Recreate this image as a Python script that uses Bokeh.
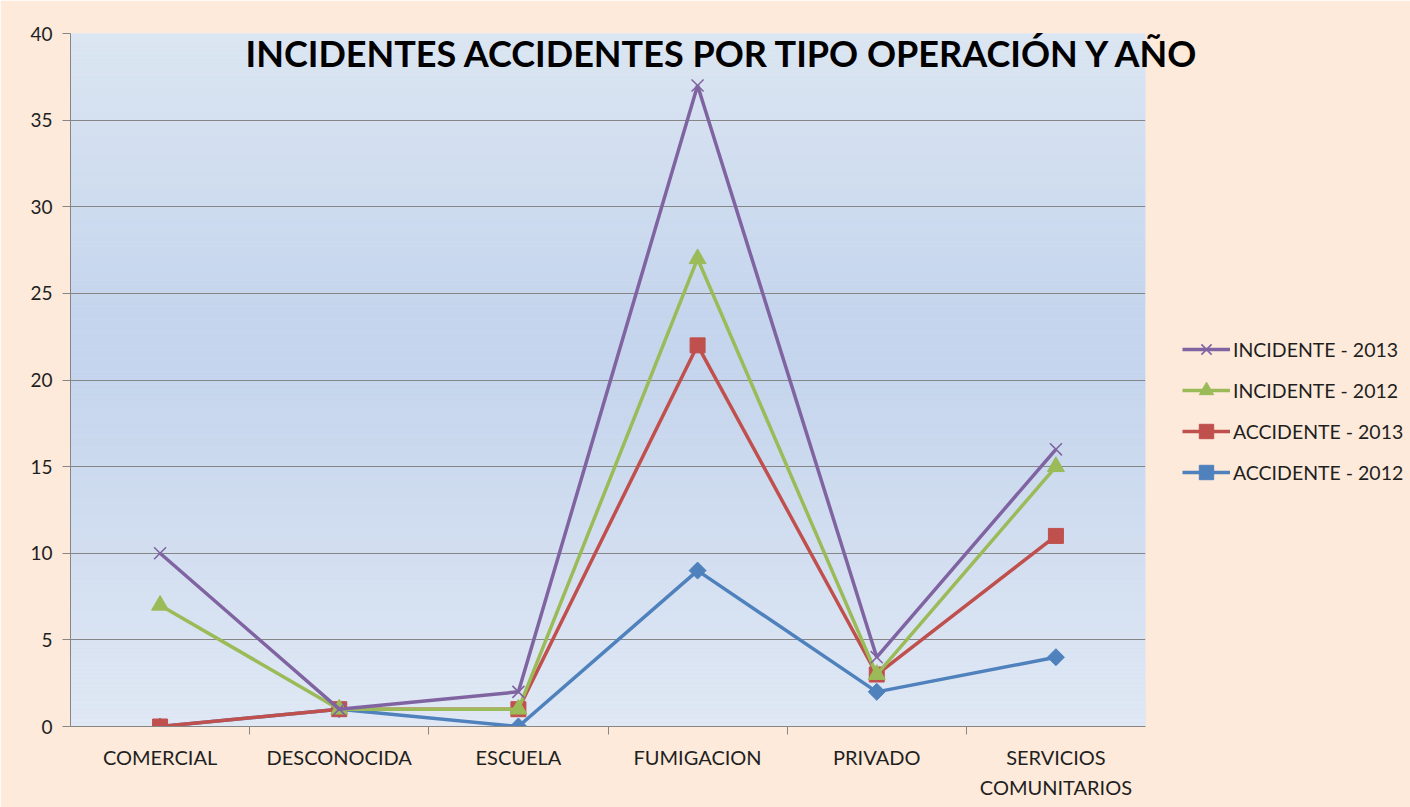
import math
from bokeh.plotting import figure
from bokeh.models import (FactorRange, Range1d, CategoricalAxis, FixedTicker,
                          Legend, LegendItem, Title, BoxAnnotation)
from bokeh.embed import file_html
from bokeh.resources import INLINE

# ---- data ----
categories = ["COMERCIAL", "DESCONOCIDA", "ESCUELA", "FUMIGACION", "PRIVADO",
              "SERVICIOS\nCOMUNITARIOS"]
incidente_2013 = [10, 1, 2, 37, 4, 16]
incidente_2012 = [7, 1, 1, 27, 3, 15]
accidente_2013 = [0, 1, 1, 22, 3, 11]
accidente_2012 = [0, 1, 0, 9, 2, 4]
y_ticks = [0, 5, 10, 15, 20, 25, 30, 35, 40]
title_text = "INCIDENTES ACCIDENTES POR TIPO OPERACIÓN Y AÑO"

FONT = "Lato"
TXT = "#1f1f1f"
GRAY = "#868686"

p = figure(x_range=FactorRange(*categories), y_range=Range1d(0, 40),
           width=None, height=None, frame_width=1075, frame_height=693,
           output_backend="svg", toolbar_location=None,
           x_axis_location=None, min_border_left=70, min_border_right=265,
           min_border_top=33, min_border_bottom=81)
p.border_fill_color = "#FDEADA"
p.background_fill_color = "#D2DEF0"
p.outline_line_color = None

# gradient plot-area background (light top/bottom, darker middle)
stops = [(0.0, (224, 232, 244)), (20.0, (197, 213, 237)), (24.0, (197, 213, 237)),
         (40.0, (220, 230, 242))]

def grad(v):
    for (a, ca), (b, cb) in zip(stops[:-1], stops[1:]):
        if a <= v <= b:
            t = (v - a) / (b - a) if b > a else 0
            c = [round(ca[k] + (cb[k] - ca[k]) * t) for k in range(3)]
            return "#%02x%02x%02x" % tuple(c)
    return "#%02x%02x%02x" % stops[-1][1]

nb = 160
for i in range(nb):
    lo = 40 * i / nb
    hi = 40 * (i + 1) / nb
    p.add_layout(BoxAnnotation(bottom=lo, top=hi, fill_color=grad((lo + hi) / 2),
                               fill_alpha=1, line_color=None, level="image"))

# y axis
p.yaxis.ticker = FixedTicker(ticks=y_ticks)
p.yaxis.axis_line_color = GRAY
p.yaxis.major_tick_line_color = GRAY
p.yaxis.major_tick_out = 8
p.yaxis.major_tick_in = 0
p.yaxis.minor_tick_line_color = None
p.yaxis.major_label_text_font = FONT
p.yaxis.major_label_text_font_size = "19px"
p.yaxis.major_label_text_color = TXT
p.yaxis.major_label_standoff = 10
p.ygrid.grid_line_color = GRAY
p.ygrid.grid_line_width = 1
p.xgrid.visible = False

# x axis: ticks at category boundaries (edge factors shifted by half a category)
edge_names = ["e%d" % i for i in range(len(categories) + 1)]
p.extra_x_ranges = {"edges": FactorRange(factors=edge_names, range_padding=-0.5,
                                         range_padding_units="absolute")}
edge_axis = CategoricalAxis(x_range_name="edges",
                            axis_line_color=GRAY, major_tick_line_color=GRAY,
                            major_tick_out=8, major_tick_in=0, minor_tick_line_color=None,
                            major_label_text_font_size="1px", major_label_text_color=None,
                            major_label_standoff=0)
p.add_layout(edge_axis, "below")
cat_axis = CategoricalAxis(axis_line_color=None, major_tick_line_color=None,
                           major_tick_out=0, major_tick_in=0,
                           major_label_text_font=FONT, major_label_text_font_size="20px",
                           major_label_text_color=TXT, major_label_standoff=10,
                           major_label_text_line_height=1.25)
p.add_layout(cat_axis, "below")

series = [
    ("ACCIDENTE - 2012", accidente_2012, "#4F81BD", "square", 12, math.pi / 4, 1),
    ("ACCIDENTE - 2013", accidente_2013, "#C0504D", "square", 15, 0, 1),
    ("INCIDENTE - 2012", incidente_2012, "#9BBB59", "triangle", 17, 0, 1),
    ("INCIDENTE - 2013", incidente_2013, "#8064A2", "x", 17, 0, 1.6),
]
items = {}
for name, vals, col, marker, size, ang, mlw in series:
    lr = p.line(categories, vals, line_color=col, line_width=3.5)
    sr = p.scatter(categories, vals, marker=marker, size=size, angle=ang,
                   fill_color=col, line_color=col, line_width=mlw)
    items[name] = LegendItem(label=name, renderers=[lr, sr])

legend = Legend(items=[items["INCIDENTE - 2013"], items["INCIDENTE - 2012"],
                       items["ACCIDENTE - 2013"], items["ACCIDENTE - 2012"]],
                location=(37, 236), orientation="vertical",
                background_fill_alpha=0, border_line_color=None,
                padding=4, margin=0, spacing=5, glyph_width=48, glyph_height=36,
                label_height=20, label_standoff=3,
                label_text_font=FONT, label_text_font_size="19.5px", label_text_color=TXT)
p.add_layout(legend, "right")

# chart title drawn over the top of the plot area
title = Title(text=title_text, align="left", offset=175,
              text_font=FONT, text_font_style="bold", text_font_size="36px",
              text_color="#000000")
title.standoff = -83
p.add_layout(title, "above")

open("out.html", "w").write(file_html(p, INLINE))
